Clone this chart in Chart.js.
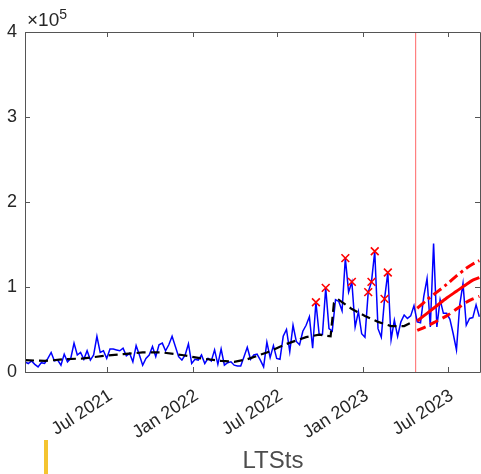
<!DOCTYPE html>
<html>
<head>
<meta charset="utf-8">
<script src="https://cdn.jsdelivr.net/npm/chart.js@4.4.0/dist/chart.umd.min.js"></script>
<style>
  html, body { margin: 0; padding: 0; background: #fff; }
  #wrap { width: 481px; height: 474px; position: relative; }
</style>
</head>
<body>
<div id="wrap"><canvas id="chart" width="481" height="474"></canvas></div>
<script>
// x values are week numbers counted from the first observation (early Jan 2021)
const tickWeeks = [25.0, 51.3, 77.1, 103.4, 129.3];
const tickLabels = ['Jul 2021', 'Jan 2022', 'Jul 2022', 'Jan 2023', 'Jul 2023'];
const yTicks = [0, 100000, 200000, 300000, 400000];

// weekly observed series (blue)
const observed = [
  12000, 10000, 13000, 9000, 6000, 11000, 10000, 16000, 23000, 13000,
  14000, 8000, 21000, 12000, 16000, 34000, 20000, 23000, 15000, 25000,
  14000, 20000, 42000, 23000, 25000, 16000, 27000, 27000, 26000, 25000,
  28000, 19000, 22000, 12000, 31000, 20000, 8000, 16000, 20000, 30000,
  18000, 32000, 34000, 25000, 32000, 42000, 30000, 18000, 14000, 20000,
  33000, 10000, 15000, 14000, 20000, 10000, 16000, 13000, 26000, 9000,
  27000, 8000, 11000, 12000, 8000, 7000, 7000, 18000, 29000, 15000,
  20000, 21000, 14000, 6000, 35000, 17000, 31000, 16000, 15000, 42000,
  50000, 24000, 55000, 36000, 32000, 48000, 55000, 65000, 28000, 82000,
  44000, 44000, 99000, 51000, 48000, 85000, 83000, 72000, 134000, 94000,
  106000, 53000, 71000, 45000, 41000, 94000, 106000, 142000, 51000, 41000,
  86000, 117000, 38000, 61000, 42000, 59000, 67000, 63000, 66000, 78000,
  59000, 58000, 89000, 110000, 53000, 151000, 53000, 85000, 69000, 69000,
  62000, 45000, 26000, 79000, 104000, 55000, 63000, 64000, 79000, 65000
];

// weeks flagged as outliers (red crosses)
const outlierWeeks = [89, 92, 98, 100, 105, 106, 107, 110, 111];

// fitted trend (black dashed), with its level shift
const trendWeeks = [0, 6, 12, 18, 24, 30, 36, 42, 48, 54, 60, 64, 68, 74, 80, 86, 90, 93.5, 94.5, 96, 100, 104, 108, 112, 116, 119];
const trendValues = [14000, 13000, 15000, 16000, 19000, 21000, 23000, 23000, 20000, 16000, 13000, 12000, 15000, 23000, 33000, 41000, 44000, 42000, 81000, 85000, 74000, 66000, 59000, 54000, 54000, 60000];

// forecast and its bounds (red)
const forecastWeeks = [120, 123, 126, 129, 132, 135, 137, 139];
const forecast = [60000, 69000, 78000, 87000, 95000, 103000, 108000, 111000];
const upperBound = [75000, 85000, 94000, 103000, 113000, 122000, 127000, 131000];
const lowerBound = [49000, 54000, 60000, 66000, 74000, 82000, 86000, 89000];

const forecastStart = 119.5;

const toPoints = (xs, ys) => xs.map((x, i) => ({ x: x, y: ys[i] }));

const FONT = '"Liberation Sans", Arial, sans-serif';
const TEXT_COLOR = '#262626';

// box, inward ticks, exponent label, caption
const decorations = {
  id: 'decorations',
  afterDraw(chart) {
    const ctx = chart.ctx;
    const a = chart.chartArea;
    const xs = chart.scales.x;
    const ys = chart.scales.y;
    ctx.save();
    ctx.strokeStyle = '#555';
    ctx.lineWidth = 1;
    ctx.beginPath();
    ctx.rect(Math.round(a.left) + 0.5, Math.round(a.top) + 0.5, Math.round(a.right - a.left), Math.round(a.bottom - a.top));
    ctx.stroke();
    ctx.beginPath();
    tickWeeks.forEach(w => {
      const px = Math.round(xs.getPixelForValue(w)) + 0.5;
      ctx.moveTo(px, a.bottom);
      ctx.lineTo(px, a.bottom - 5);
      ctx.moveTo(px, a.top);
      ctx.lineTo(px, a.top + 5);
    });
    yTicks.forEach(v => {
      const py = Math.round(ys.getPixelForValue(v)) + 0.5;
      ctx.moveTo(a.left, py);
      ctx.lineTo(a.left + 5, py);
      ctx.moveTo(a.right, py);
      ctx.lineTo(a.right - 5, py);
    });
    ctx.stroke();

    ctx.fillStyle = TEXT_COLOR;
    ctx.textBaseline = 'alphabetic';
    ctx.textAlign = 'left';
    ctx.font = '19px ' + FONT;
    ctx.fillText('\u00d710', 27, 26);
    const w = ctx.measureText('\u00d710').width;
    ctx.font = '14px ' + FONT;
    ctx.fillText('5', 27 + w, 19);

    ctx.fillStyle = '#4d4d4d';
    ctx.font = '24px ' + FONT;
    ctx.textAlign = 'center';
    ctx.fillText('LTSts', 273, 468);

    ctx.fillStyle = '#f4c430';
    ctx.fillRect(44, 440, 4, 34);
    ctx.restore();
  }
};

new Chart(document.getElementById('chart').getContext('2d'), {
  type: 'line',
  data: {
    datasets: [
      {
        label: 'outliers',
        type: 'scatter',
        data: outlierWeeks.map(w => ({ x: w, y: observed[w] })),
        pointStyle: 'crossRot',
        pointRadius: 5.5,
        borderColor: '#ff0000',
        borderWidth: 1.6,
        showLine: false,
        order: 0
      },
      {
        label: 'forecast',
        data: toPoints(forecastWeeks, forecast),
        borderColor: '#ff0000',
        borderWidth: 3,
        pointRadius: 0,
        tension: 0.3,
        order: 1
      },
      {
        label: 'upper',
        data: toPoints(forecastWeeks, upperBound),
        borderColor: '#ff0000',
        borderWidth: 3,
        borderDash: [10, 4, 3, 4],
        pointRadius: 0,
        tension: 0.3,
        order: 1
      },
      {
        label: 'lower',
        data: toPoints(forecastWeeks, lowerBound),
        borderColor: '#ff0000',
        borderWidth: 3,
        borderDash: [9, 5],
        pointRadius: 0,
        tension: 0.3,
        order: 1
      },
      {
        label: 'trend',
        data: toPoints(trendWeeks, trendValues),
        borderColor: '#000000',
        borderWidth: 2.2,
        borderDash: [9, 5],
        pointRadius: 0,
        order: 2
      },
      {
        label: 'observed',
        data: observed.map((v, i) => ({ x: i, y: v })),
        borderColor: '#0000ff',
        borderWidth: 1.5,
        pointRadius: 0,
        order: 3
      },
      {
        label: 'start',
        data: [{ x: forecastStart, y: 0 }, { x: forecastStart, y: 400000 }],
        borderColor: '#ff8080',
        borderWidth: 1.2,
        pointRadius: 0,
        order: 4
      }
    ]
  },
  options: {
    responsive: false,
    animation: false,
    devicePixelRatio: 1,
    layout: { autoPadding: false, padding: { left: 0, right: 1, top: 32, bottom: 0 } },
    plugins: {
      legend: { display: false },
      tooltip: { enabled: false },
      title: { display: false }
    },
    scales: {
      x: {
        type: 'linear',
        min: 0,
        max: 139.2,
        afterBuildTicks: scale => { scale.ticks = tickWeeks.map(v => ({ value: v })); },
        afterFit: scale => {
          scale.height = 102;
          scale.paddingLeft = 0;
          scale.paddingRight = 0;
        },
        ticks: {
          autoSkip: false,
          minRotation: 33,
          maxRotation: 33,
          padding: 13,
          labelOffset: 4,
          color: TEXT_COLOR,
          font: { family: FONT, size: 18 },
          callback: (value, index) => tickLabels[index]
        },
        grid: { display: false, drawTicks: false },
        border: { display: false }
      },
      y: {
        min: 0,
        max: 400000,
        afterBuildTicks: scale => { scale.ticks = yTicks.map(v => ({ value: v })); },
        afterFit: scale => {
          scale.width = 25;
          scale.paddingTop = 0;
          scale.paddingBottom = 0;
        },
        ticks: {
          padding: 8,
          color: TEXT_COLOR,
          font: { family: FONT, size: 18 },
          callback: value => String(value / 100000)
        },
        grid: { display: false, drawTicks: false },
        border: { display: false }
      }
    }
  },
  plugins: [decorations]
});
</script>
</body>
</html>
